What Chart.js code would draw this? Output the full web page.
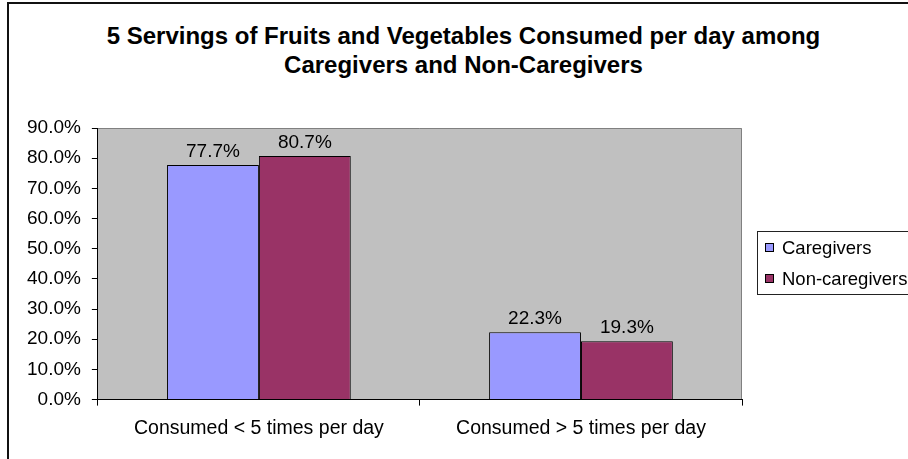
<!DOCTYPE html>
<html>
<head>
<meta charset="utf-8">
<script src="https://cdn.jsdelivr.net/npm/chart.js@4/dist/chart.umd.min.js"></script>
<style>
    body { margin: 0; background: #fff; overflow: hidden; font-family: Arial, "Liberation Sans", sans-serif; }
    #frame { position: absolute; left: 7px; top: 2px; width: 1000px; height: 1000px; border-left: 2px solid #111; border-top: 2px solid #111; }
    #title { position: absolute; left: 19px; width: 889px; top: 21px; text-align: center; font-weight: bold; font-size: 24px; line-height: 29px; color: #000; }
    #chartBox { position: absolute; left: 0; top: 0; width: 908px; height: 459px; }
    #legend { position: absolute; left: 757px; top: 231px; width: 200px; height: 62px; border: 1px solid #222; padding-left: 7px; box-sizing: content-box; }
    .item { display: flex; align-items: center; height: 31px; font-size: 18.5px; color: #000; white-space: nowrap; }
    .swatch { width: 7px; height: 7px; border: 1px solid #000; margin-right: 8px; }
</style>
</head>
<body>
<div id="frame"></div>
<div id="title">5 Servings of Fruits and Vegetables Consumed per day among<br>Caregivers and Non-Caregivers</div>
<div id="chartBox"><canvas id="servingsChart" width="908" height="459"></canvas></div>
<div id="legend"></div>
<script>
// 数据
const categories = ['Consumed < 5 times per day', 'Consumed > 5 times per day'];
const seriesNames = ['Caregivers', 'Non-caregivers'];
const caregivers = [77.7, 22.3];
const nonCaregivers = [80.7, 19.3];
const yTicks = [0, 10, 20, 30, 40, 50, 60, 70, 80, 90];

const FONT = 'Arial, "Liberation Sans", sans-serif';

// 灰色绘图区背景
const plotBackground = {
    id: 'plotBackground',
    beforeDraw(chart) {
        const { ctx, chartArea: a } = chart;
        ctx.save();
        ctx.fillStyle = '#c0c0c0';
        ctx.fillRect(a.left, a.top, a.right - a.left, a.bottom - a.top);
        ctx.strokeStyle = '#808080';
        ctx.lineWidth = 1;
        ctx.beginPath();
        ctx.moveTo(a.left, a.top + 0.5);
        ctx.lineTo(a.right - 0.5, a.top + 0.5);
        ctx.lineTo(a.right - 0.5, a.bottom);
        ctx.stroke();
        ctx.restore();
    }
};

// 柱子上方的数值
const barValues = {
    id: 'barValues',
    afterDatasetsDraw(chart) {
        const { ctx } = chart;
        ctx.save();
        ctx.font = '19px ' + FONT;
        ctx.fillStyle = '#000';
        ctx.textAlign = 'center';
        ctx.textBaseline = 'alphabetic';
        chart.data.datasets.forEach((ds, i) => {
            chart.getDatasetMeta(i).data.forEach((bar, j) => {
                ctx.fillText(ds.data[j].toFixed(1) + '%', bar.x, bar.y - 8);
            });
        });
        ctx.restore();
    }
};

const chart = new Chart(document.getElementById('servingsChart').getContext('2d'), {
    type: 'bar',
    data: {
        labels: categories,
        datasets: [{
            label: seriesNames[0],
            data: caregivers,
            backgroundColor: '#9999ff',
            borderColor: '#000',
            borderWidth: 1
        }, {
            label: seriesNames[1],
            data: nonCaregivers,
            backgroundColor: '#993366',
            borderColor: '#000',
            borderWidth: 1
        }]
    },
    options: {
        responsive: false,
        animation: false,
        layout: { padding: { left: 16, right: 166, top: 128, bottom: 8 } },
        datasets: { bar: { categoryPercentage: 0.5705, barPercentage: 1 } },
        plugins: {
            legend: { display: false },
            title: { display: false },
            tooltip: { enabled: false }
        },
        scales: {
            x: {
                grid: { offset: true, drawOnChartArea: false, tickLength: 6, color: '#000' },
                border: { color: '#000' },
                ticks: { color: '#000', padding: 11, font: { family: FONT, size: 19.5 } }
            },
            y: {
                min: 0,
                max: 90,
                afterBuildTicks: scale => { scale.ticks = yTicks.map(v => ({ value: v })); },
                grid: { drawOnChartArea: false, tickLength: 6, color: '#000' },
                border: { color: '#000' },
                ticks: {
                    color: '#000',
                    padding: 11,
                    font: { family: FONT, size: 19 },
                    callback: v => v.toFixed(1) + '%'
                }
            }
        }
    },
    plugins: [plotBackground, barValues]
});

// 图例
const legend = document.getElementById('legend');
chart.data.datasets.forEach(ds => {
    const item = document.createElement('div');
    item.className = 'item';
    item.innerHTML = `<span class="swatch" style="background:${ds.backgroundColor}"></span>${ds.label}`;
    legend.appendChild(item);
});
</script>
</body>
</html>
